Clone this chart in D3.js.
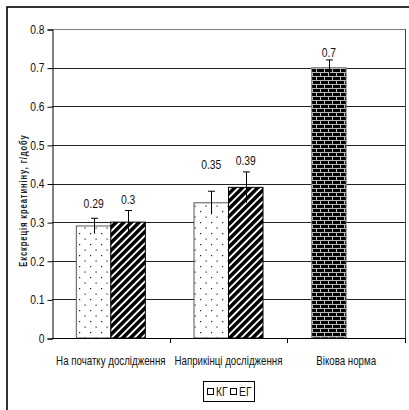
<!DOCTYPE html>
<html><head><meta charset="utf-8">
<script src="https://cdn.jsdelivr.net/npm/d3@7/dist/d3.min.js"></script>
<style>
body{margin:0;background:#fff}
text{font-family:"Liberation Sans",Arial,sans-serif;}
</style>
</head><body><svg id="c" width="409" height="410"></svg>
<script>
// ---- data ----
const categories = ["На початку дослідження", "Наприкінці дослідження", "Вікова норма"];
const series = ["КГ", "ЕГ"];
const kgValues = [0.29, 0.35, 0.7];
const kgErrors = [0.02, 0.03, 0.02];
const egValues = [0.3, 0.39, null];
const egErrors = [0.03, 0.04, null];
const yTicks = [0, 0.1, 0.2, 0.3, 0.4, 0.5, 0.6, 0.7, 0.8];
const yTickLabels = ["0", "0.1", "0.2", "0.3", "0.4", "0.5", "0.6", "0.7", "0.8"];
const kgLabels = ["0.29", "0.35", "0.7"];
const egLabels = ["0.3", "0.39", null];
const yTitle = "Екскреція креатиніну, г/добу";
const normIndex = 2; // category drawn with brick fill

// ---- layout ----
const SX = 0.86;          // horizontal squeeze to mimic a narrow face
const FS = 12;
const svg = d3.select("#c");
const L = 52, R = 405, T = 29, B = 338;
const y = d3.scaleLinear().domain([0, 0.8]).range([B, T]);
const x0 = d3.scaleBand().domain(categories).range([L, R]).paddingInner(0).paddingOuter(0);
const x1 = d3.scaleBand().domain(series).range([0, x0.bandwidth()]).paddingInner(0).paddingOuter(0.705);

function ntext(parent, x, yy, str, anchor, sx) {
  return parent.append("text").attr("transform", `translate(${x},${yy}) scale(${sx || SX},1)`)
    .attr("text-anchor", anchor || "middle").attr("font-size", FS).attr("fill", "#111").text(str);
}

const defs = svg.append("defs");
// dots
const pd = defs.append("pattern").attr("id", "dots").attr("patternUnits", "userSpaceOnUse")
  .attr("width", 11).attr("height", 11);
pd.append("rect").attr("width", 11).attr("height", 11).attr("fill", "#fff");
pd.append("rect").attr("x", 2).attr("y", 2).attr("width", 1.2).attr("height", 1.2).attr("fill", "#222");
pd.append("rect").attr("x", 7.5).attr("y", 7.5).attr("width", 1.2).attr("height", 1.2).attr("fill", "#222");
// stripes
const ps = defs.append("pattern").attr("id", "stripes").attr("patternUnits", "userSpaceOnUse")
  .attr("width", 5.4).attr("height", 5.4).attr("patternTransform", "rotate(45)");
ps.append("rect").attr("width", 5.4).attr("height", 5.4).attr("fill", "#fff");
ps.append("rect").attr("width", 3.5).attr("height", 5.4).attr("fill", "#000");
// bricks
const pb = defs.append("pattern").attr("id", "bricks").attr("patternUnits", "userSpaceOnUse")
  .attr("width", 8).attr("height", 8).attr("x", 0).attr("y", 0);
pb.append("rect").attr("width", 8).attr("height", 8).attr("fill", "#000");
pb.append("rect").attr("x", 0).attr("y", 0).attr("width", 8).attr("height", 1).attr("fill", "#b8b8b8");
pb.append("rect").attr("x", 0).attr("y", 4).attr("width", 8).attr("height", 1).attr("fill", "#b8b8b8");
pb.append("rect").attr("x", 0).attr("y", 0).attr("width", 1).attr("height", 4).attr("fill", "#b8b8b8");
pb.append("rect").attr("x", 4).attr("y", 4).attr("width", 1).attr("height", 4).attr("fill", "#b8b8b8");

// outer frame
svg.append("rect").attr("x", 7).attr("y", 7).attr("width", 420).attr("height", 420)
  .attr("fill", "none").attr("stroke", "#000").attr("stroke-width", 1.6);

// gridlines
svg.append("g").selectAll("line").data(yTicks.filter(d => d > 0)).join("line")
  .attr("x1", L).attr("x2", R).attr("y1", d => Math.round(y(d)) + 0.5).attr("y2", d => Math.round(y(d)) + 0.5)
  .attr("stroke", d => d === 0.8 ? "#808080" : "#222").attr("stroke-width", 1);
// right border of plot
svg.append("line").attr("x1", R + 0.5).attr("x2", R + 0.5).attr("y1", T).attr("y2", B)
  .attr("stroke", "#444").attr("stroke-width", 1);

// y axis
const yAxis = d3.axisLeft(y).tickValues(yTicks).tickFormat((d, i) => yTickLabels[i]).tickSizeOuter(0).tickSize(5).tickPadding(3);
const gy = svg.append("g").attr("transform", `translate(${L + 0.5},0.5)`).call(yAxis);
gy.select(".domain").attr("stroke", "#000");
gy.selectAll(".tick line").attr("stroke", "#000");
gy.selectAll(".tick text").attr("font-size", FS).attr("fill", "#111").style("font-family", null)
  .attr("x", -8 / SX).attr("transform", `scale(${SX},1)`);

// y title
svg.append("text").attr("transform", `translate(27,${(T + B) / 2 + 17}) rotate(-90) scale(0.72,1)`)
  .attr("text-anchor", "middle").attr("font-size", 10.5).attr("font-weight", "bold")
  .attr("letter-spacing", 1.3).attr("fill", "#222").text(yTitle);

// bars
const gb = svg.append("g");
function drawBar(cat, ser, v, fill, stroke) {
  gb.append("rect").attr("x", x0(cat) + x1(ser)).attr("y", y(v))
    .attr("width", x1.bandwidth()).attr("height", y(0) - y(v))
    .attr("fill", fill).attr("stroke", stroke).attr("stroke-width", 1);
}
categories.forEach((c, i) => {
  drawBar(c, "КГ", kgValues[i], i === normIndex ? "url(#bricks)" : "url(#dots)", i === normIndex ? "#888" : "#555");
  if (egValues[i] != null) drawBar(c, "ЕГ", egValues[i], "url(#stripes)", "#000");
});

// error bars
function drawErr(cat, ser, v, e) {
  const cx = Math.round(x0(cat) + x1(ser) + x1.bandwidth() / 2) + 0.5;
  const g = gb.append("g").attr("stroke", "#000").attr("stroke-width", 1);
  g.append("line").attr("x1", cx).attr("x2", cx).attr("y1", y(v + e)).attr("y2", y(v - e));
  g.append("line").attr("x1", cx - 3.5).attr("x2", cx + 3.5).attr("y1", y(v + e)).attr("y2", y(v + e));
}
categories.forEach((c, i) => {
  drawErr(c, "КГ", kgValues[i], kgErrors[i]);
  if (egValues[i] != null) drawErr(c, "ЕГ", egValues[i], egErrors[i]);
});

// value labels: above the group's highest error bar
categories.forEach((c, i) => {
  const top = Math.max(kgValues[i] + kgErrors[i], egValues[i] != null ? egValues[i] + egErrors[i] : 0);
  const yt = y(top);
  ntext(svg, x0(c) + x1("КГ") + x1.bandwidth() / 2, yt - 7 + 4.5, kgLabels[i]);
  if (egLabels[i] != null)
    ntext(svg, x0(c) + x1("ЕГ") + x1.bandwidth() / 2, yt - 11.5 + 4.5, egLabels[i]);
});

// x axis
svg.append("line").attr("x1", L).attr("x2", R + 1).attr("y1", B + 0.5).attr("y2", B + 0.5).attr("stroke", "#000");
const bounds = categories.map(c => x0(c)).concat([R]).slice(1);
svg.append("g").selectAll("line").data(bounds).join("line")
  .attr("x1", d => Math.round(d) + 0.5).attr("x2", d => Math.round(d) + 0.5)
  .attr("y1", B).attr("y2", B + 5).attr("stroke", "#000");
const gx = svg.append("g");
categories.forEach(c => ntext(gx, x0(c) + x0.bandwidth() / 2, 365, c, "middle", 0.81));

// legend
const lg = svg.append("g");
lg.append("rect").attr("x", 203.5).attr("y", 381.5).attr("width", 51).attr("height", 20)
  .attr("fill", "#fff").attr("stroke", "#000").attr("stroke-width", 1);
const legItems = [{ s: series[0], x: 207 }, { s: series[1], x: 230 }];
legItems.forEach(it => {
  lg.append("rect").attr("x", it.x + 0.5).attr("y", 388.5).attr("width", 6).attr("height", 6)
    .attr("fill", "#fff").attr("stroke", "#000");
  ntext(lg, it.x + 9, 396, it.s, "start");
});
</script>
</body></html>
